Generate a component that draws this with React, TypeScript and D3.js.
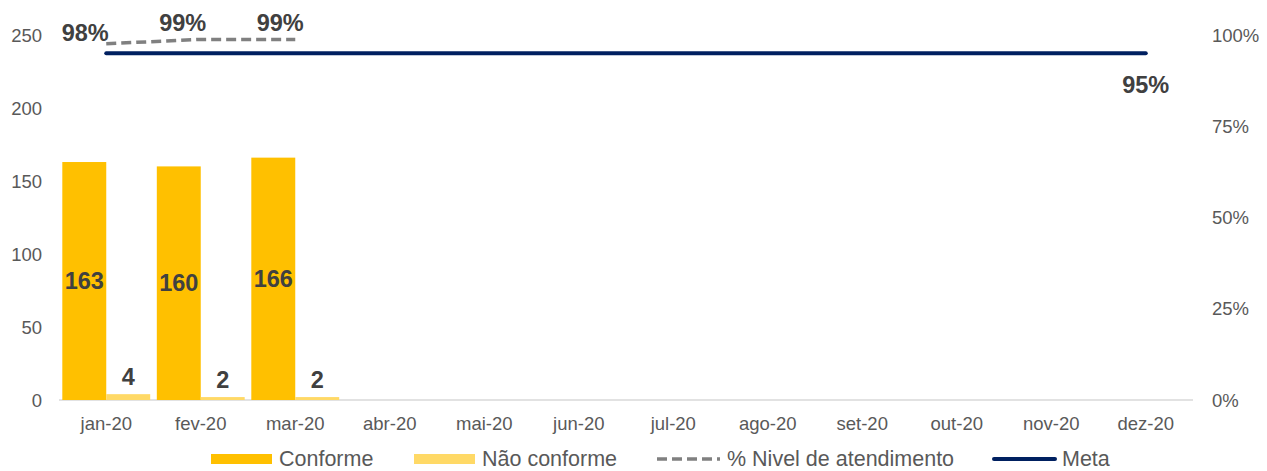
import React from "react";
import * as d3 from "d3";

const categories = ["jan-20","fev-20","mar-20","abr-20","mai-20","jun-20","jul-20","ago-20","set-20","out-20","nov-20","dez-20"];
const conforme: (number | null)[] = [163, 160, 166, null, null, null, null, null, null, null, null, null];
const naoConforme: (number | null)[] = [4, 2, 2, null, null, null, null, null, null, null, null, null];
const nivel: (number | null)[] = [0.976, 0.988, 0.988, null, null, null, null, null, null, null, null, null];
const meta: number[] = [0.95, 0.95, 0.95, 0.95, 0.95, 0.95, 0.95, 0.95, 0.95, 0.95, 0.95, 0.95];
const leftTicks = [0, 50, 100, 150, 200, 250];
const rightTicks = [0, 0.25, 0.5, 0.75, 1];

const W = 1267, H = 471;
const FONT = "'Liberation Sans', Arial, sans-serif";
const C_CONF = "#FFC000";
const C_NAO = "#FFD966";
const C_NIVEL = "#808080";
const C_META = "#002060";
const C_LABEL = "#404040";
const C_TICK = "#595959";

export default function App() {
  const x0 = d3.scaleBand<string>().domain(categories).range([59, 1193]).paddingInner(0.07).paddingOuter(0.035);
  const x1 = d3.scaleBand<string>().domain(["c", "n"]).range([0, x0.bandwidth()]);
  const xc = (c: string) => (x0(c) as number) + x0.bandwidth() / 2;
  const yL = d3.scaleLinear().domain([0, 250]).range([400, 35]);
  const yR = d3.scaleLinear().domain([0, 1]).range([400, 35]);
  const pct = d3.format(".0%");

  const nivelLine = d3.line<number | null>()
    .defined((d) => d !== null)
    .x((_, i) => xc(categories[i]))
    .y((d) => yR(d as number));
  const metaLine = d3.line<number>()
    .x((_, i) => xc(categories[i]))
    .y((d) => yR(d));

  const nivelOffsets = [-21, -18, -15];
  const nivelDy = [-3, -8, -8];

  return (
    <svg width={W} height={H} style={{ position: "absolute", left: 0, top: 0, fontFamily: FONT }}>
      <rect width={W} height={H} fill="#fff" />
      <line x1={59} x2={1193} y1={yL(0)} y2={yL(0)} stroke="#D9D9D9" strokeWidth={1.5} />
      {leftTicks.map((t) => (
        <text key={"l" + t} x={42} y={yL(t)} textAnchor="end" dominantBaseline="central" fontSize={18.5} fill={C_TICK}>{t}</text>
      ))}
      {rightTicks.map((t) => (
        <text key={"r" + t} x={1212} y={yR(t)} textAnchor="start" dominantBaseline="central" fontSize={18.5} fill={C_TICK}>{pct(t)}</text>
      ))}
      {categories.map((c) => (
        <text key={"x" + c} x={xc(c)} y={423} textAnchor="middle" dominantBaseline="central" fontSize={18.5} fill={C_TICK}>{c}</text>
      ))}
      {categories.map((c, i) => {
        const v1 = conforme[i];
        const v2 = naoConforme[i];
        const bx = x0(c) as number;
        return (
          <g key={"b" + c}>
            {v1 !== null && (
              <rect x={bx + (x1("c") as number)} y={yL(v1)} width={x1.bandwidth()} height={yL(0) - yL(v1)} fill={C_CONF} />
            )}
            {v2 !== null && (
              <rect x={bx + (x1("n") as number)} y={yL(v2)} width={x1.bandwidth()} height={yL(0) - yL(v2)} fill={C_NAO} />
            )}
          </g>
        );
      })}
      {categories.map((c, i) => {
        const v1 = conforme[i];
        const v2 = naoConforme[i];
        const bx = x0(c) as number;
        return (
          <g key={"bl" + c}>
            {v1 !== null && (
              <text x={bx + (x1("c") as number) + x1.bandwidth() / 2} y={yL(v1 / 2)} textAnchor="middle" dominantBaseline="central" fontSize={23.5} fontWeight="bold" fill={C_LABEL}>{v1}</text>
            )}
            {v2 !== null && (
              <text x={bx + (x1("n") as number) + x1.bandwidth() / 2} y={yL(v2) - 9} textAnchor="middle" fontSize={23.5} fontWeight="bold" fill={C_LABEL}>{v2}</text>
            )}
          </g>
        );
      })}
      <path d={metaLine(meta) || ""} fill="none" stroke={C_META} strokeWidth={4} strokeLinecap="round" />
      <path d={nivelLine(nivel) || ""} fill="none" stroke={C_NIVEL} strokeWidth={3.5} strokeDasharray="10,5" />
      {nivel.map((v, i) => v !== null && (
        <text key={"nl" + i} x={xc(categories[i]) + (nivelOffsets[i] ?? -18)} y={yR(v) + (nivelDy[i] ?? -8)} textAnchor="middle" fontSize={23.5} fontWeight="bold" fill={C_LABEL}>{pct(v)}</text>
      ))}
      <text x={xc(categories[11])} y={yR(meta[11]) + 40} textAnchor="middle" fontSize={23.5} fontWeight="bold" fill={C_LABEL}>{pct(meta[11])}</text>
      <g fontSize={21.5} fill={C_TICK}>
        <rect x={211} y={454} width={61} height={10} fill={C_CONF} />
        <text x={279} y={459} dominantBaseline="central">Conforme</text>
        <rect x={414} y={454} width={61} height={10} fill={C_NAO} />
        <text x={482} y={459} dominantBaseline="central">Não conforme</text>
        <line x1={657} x2={720} y1={459} y2={459} stroke={C_NIVEL} strokeWidth={3.5} strokeDasharray="10,5" />
        <text x={727} y={459} dominantBaseline="central">% Nivel de atendimento</text>
        <line x1={994} x2={1055} y1={459} y2={459} stroke={C_META} strokeWidth={4} strokeLinecap="round" />
        <text x={1062} y={459} dominantBaseline="central">Meta</text>
      </g>
    </svg>
  );
}
